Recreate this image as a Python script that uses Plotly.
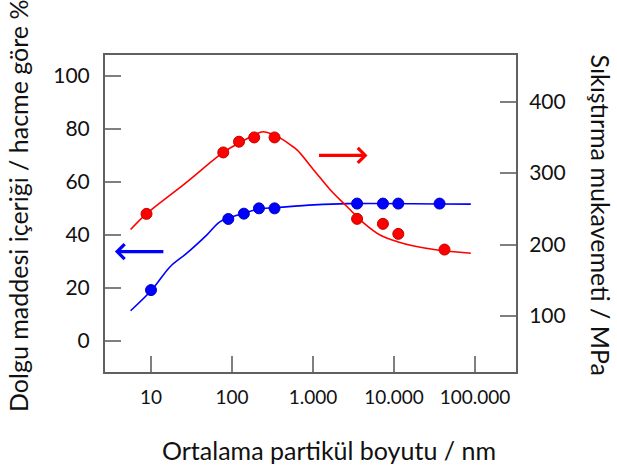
import plotly.graph_objects as go

# Mean particle size (nm) and measured values
red_x = [8.8, 78, 122, 188, 335, 3500, 7300, 11300, 42000]
red_y = [243, 329, 344, 350, 350, 236, 229, 215, 193]          # compressive strength, MPa
blue_x = [10, 90, 140, 215, 335, 3500, 7300, 11300, 36500]
blue_y = [19.2, 46, 48, 50, 50, 51.8, 51.8, 51.8, 51.8]        # filler content, vol %

# Fitted trend curves
red_fit_x = [5.6, 8.75, 26, 78, 126, 185, 245, 395, 525, 635, 1020, 1640,
             2640, 4240, 6800, 11000, 17600, 34400, 88700]
red_fit_y = [221, 243, 285, 329, 343, 353, 358, 349, 339.5, 332.5, 304.5, 276.5,
             253, 230, 213, 204, 198, 192.4, 187.8]
blue_fit_x = [5.6, 10.2, 17.2, 27.7, 49, 71.5, 139, 223, 395, 1020, 2640, 88700]
blue_fit_y = [11.4, 19.2, 28, 33.1, 40.0, 45, 48.1, 49.8, 50.4, 51.3, 51.8, 51.6]

x_ticks = [10, 100, 1000, 10000, 100000]
x_tick_text = ["10", "100", "1.000", "10.000", "100.000"]
left_ticks = [0, 20, 40, 60, 80, 100]
right_ticks = [100, 200, 300, 400]

W, H = 617, 468
ML, MR, MT, MB = 105, 101, 55, 96
PW, PH = W - ML - MR, H - MT - MB

def px(x):
    return (x - ML) / PW

def py(y):
    return (H - MB - y) / PH

RED = "#ff0000"
BLUE = "#0000ff"
FRAME = "#606060"
FONT = "Lato"

fig = go.Figure()
fig.add_trace(go.Scatter(x=red_fit_x, y=red_fit_y, mode="lines", yaxis="y2",
                         line=dict(color=RED, width=1.6, shape="spline"),
                         hoverinfo="skip"))
fig.add_trace(go.Scatter(x=blue_fit_x, y=blue_fit_y, mode="lines",
                         line=dict(color=BLUE, width=1.6, shape="spline",
                                   smoothing=0.9),
                         hoverinfo="skip"))
fig.add_trace(go.Scatter(x=red_x, y=red_y, mode="markers", yaxis="y2",
                         marker=dict(color=RED, size=11,
                                     line=dict(color="#c00000", width=1))))
fig.add_trace(go.Scatter(x=blue_x, y=blue_y, mode="markers",
                         marker=dict(color=BLUE, size=11,
                                     line=dict(color="#0000c0", width=1))))

axis_common = dict(showgrid=False, zeroline=False, ticks="inside", ticklen=16,
                   tickwidth=2, tickcolor="#7f7f7f", showline=True,
                   linecolor=FRAME, linewidth=2)

fig.update_layout(
    width=W, height=H,
    margin=dict(l=ML, r=MR, t=MT, b=MB, pad=0),
    paper_bgcolor="white", plot_bgcolor="white",
    showlegend=False,
    font=dict(family=FONT, color="#111111"),
    xaxis=dict(type="log", range=[0.432, 5.506], tickvals=x_ticks,
               ticktext=x_tick_text, mirror=True, ticklabelstandoff=7,
               tickfont=dict(size=19), **axis_common),
    yaxis=dict(range=[-11.68, 107.8], tickvals=left_ticks, mirror=True,
               ticklabelstandoff=9, tickfont=dict(size=21), **axis_common),
    yaxis2=dict(range=[21.6, 465.4], tickvals=right_ticks, overlaying="y",
                side="right", ticklabelstandoff=7, tickfont=dict(size=21),
                **axis_common),
)

# Axis titles
fig.add_annotation(text="Ortalama partikül boyutu / nm", xref="paper", yref="paper",
                   x=px(329), y=py(450), xanchor="center", yanchor="middle",
                   showarrow=False, font=dict(size=25))
fig.add_annotation(text="Dolgu maddesi içeriği / hacme göre %", xref="paper",
                   yref="paper", x=px(18), y=py(414), xanchor="center",
                   yanchor="bottom", textangle=-90, showarrow=False,
                   font=dict(size=25))
fig.add_annotation(text="Sıkıştırma mukavemeti / MPa", xref="paper", yref="paper",
                   x=px(601), y=py(52), xanchor="center", yanchor="top",
                   textangle=90, showarrow=False, font=dict(size=25))

# Arrows pointing to each series' axis
fig.add_annotation(x=3.673, y=324.8, xref="x", yref="y2", ax=-50, ay=0,
                   showarrow=True, arrowhead=4, arrowsize=0.9, arrowwidth=3.2,
                   arrowcolor=RED, text="")
fig.add_annotation(x=0.554, y=33.7, xref="x", yref="y", ax=50, ay=0,
                   showarrow=True, arrowhead=4, arrowsize=0.9, arrowwidth=3.2,
                   arrowcolor=BLUE, text="")

fig.write_html("out.html")
